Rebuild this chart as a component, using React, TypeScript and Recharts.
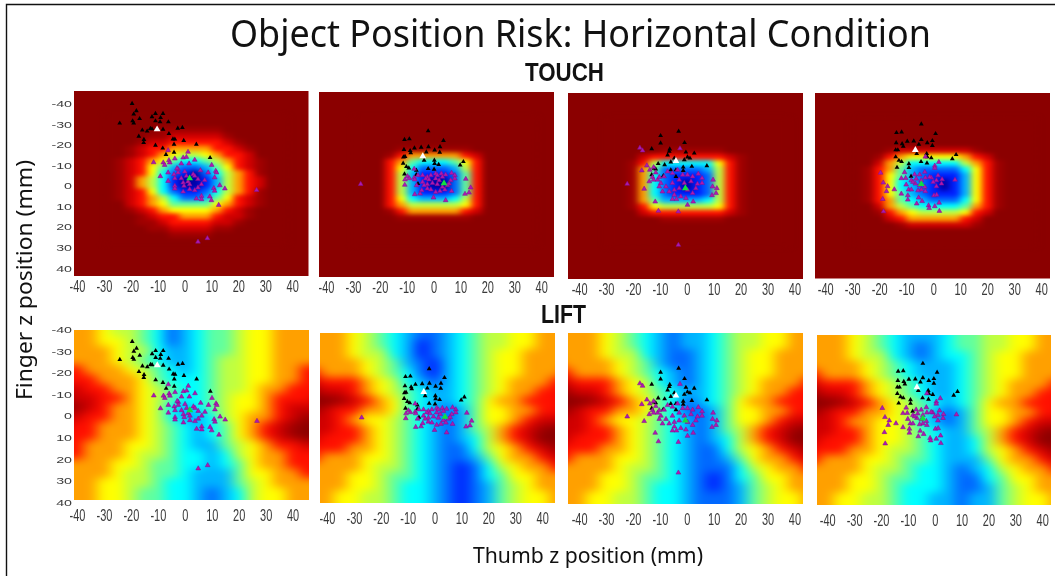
import { ScatterChart, Scatter, XAxis, YAxis, ReferenceArea, Symbols } from 'recharts';

// risk levels 0..c, low to high, written as one hex digit per cell in the tables below
const riskColors = [
  '#0000A8', '#0020FF', '#0068FF', '#00B4FF', '#00FFFF', '#60FFA0', '#C0FF40',
  '#FFFF00', '#FFA000', '#FF1000', '#D00000', '#A00000', '#8B0000',
];

const tickValues = [-40, -30, -20, -10, 0, 10, 20, 30, 40];

const touchXs = [-28, -24, -20, -16, -12, -8, -4, 0, 4, 8, 12, 16, 20, 24, 28, 32, 36];
const touchYs = [-33, -30, -27, -24, -21, -18, -15, -12, -9, -6, -3, 0, 3, 6, 9, 12, 15, 18, 21, 24, 27];
const liftXs = [-50, -45, -40, -35, -30, -25, -20, -15, -10, -5, 0, 5, 10, 15, 20, 25, 30, 35, 40, 45, 50];
const liftYs = [-50, -45, -40, -35, -30, -25, -20, -15, -10, -5, 0, 5, 10, 15, 20, 25, 30, 35, 40, 45, 50];

const touchRisk1 = [
  'ccccccccccccccccc', 'ccccccccccccccccc', 'cccccbbbbbbcccccc', 'ccccbbaaaaabccccc', 'cccbaa99999abcccc',
  'ccba99888899abccc', 'ccba987667899accc', 'cba9875445689abcc', 'cba9753223579abcc', 'cba97421024689bcc',
  'cba86410013689acc', 'cba86410013689acc', 'cba97421124689bcc', 'cba9864223579abcc', 'cca9875555789abcc',
  'ccba98777789abccc', 'cccba998889aabccc', 'cccbba9999aabcccc', 'ccccbbaaaabbccccc', 'ccccccbbbbccccccc',
  'ccccccccccccccccc',
];
const touchRisk2 = [
  'ccccccccccccccccc', 'ccccccccccccccccc', 'ccccccccccccccccc', 'ccccccccccccccccc', 'ccccccccccccccccc',
  'ccccbbbbbbbcccccc', 'cccb9888889accccc', 'ccc985444579ccccc', 'ccc974222369ccccc', 'ccc963111259ccccc',
  'ccc963100259ccccc', 'ccc963100259ccccc', 'ccc963111259ccccc', 'ccc974333469ccccc', 'ccc986666679ccccc',
  'cccb9888889accccc', 'ccccbbbbbbbcccccc', 'ccccccccccccccccc', 'ccccccccccccccccc', 'ccccccccccccccccc',
  'ccccccccccccccccc',
];
const touchRisk3 = [
  'ccccccccccccccccc', 'ccccccccccccccccc', 'ccccccccccccccccc', 'ccccccccccccccccc', 'ccccccccccccccccc',
  'cccccbbbbbbcccccc', 'ccca9999999abcccc', 'ccb964444479bcccc', 'ccb852222369bcccc', 'ccb842111269bcccc',
  'ccb842101269bcccc', 'ccb842101269bcccc', 'ccb842111269bcccc', 'ccb853333469bcccc', 'ccb976666679bcccc',
  'ccca9999999abcccc', 'cccccbbbbbbcccccc', 'ccccccccccccccccc', 'ccccccccccccccccc', 'ccccccccccccccccc',
  'ccccccccccccccccc',
];
const touchRisk4 = [
  'ccccccccccccccccc', 'ccccccccccccccccc', 'ccccccccccccccccc', 'ccccccccccccccccc', 'ccccccccccccccccc',
  'cccbaaaaaaabccccc', 'ccb987777789acccc', 'cca8644444689bccc', 'cb98532222479bccc', 'cb97532111379bccc',
  'cb97432101379bccc', 'cb97432101379bccc', 'cb97532111379bccc', 'cb98543222479bccc', 'cca8654444589bccc',
  'ccb987666679acccc', 'ccca9888889accccc', 'ccccbaaaaaabccccc', 'ccccccccccccccccc', 'ccccccccccccccccc',
  'ccccccccccccccccc',
];

const liftRisk1 = [
  '888876654234556778888', '888876654234556778888', '888877654234556778888', '888887664334556778888',
  '988887654334566778888', '999888765434566778899', 'a99988875444566778899', 'baa998876544566788999',
  'cbaa9987654456778999a', 'ccba98876434567789aaa', 'baa998876433467889abb', 'aa998887654345789abcc',
  'a9998887654345789abcc', '9998887765433567899aa', '999888766544346788999', '988887765544345788999',
  '888887665543335778899', '888877665443335678888', '888877655443234677888', '888877655443234677888',
  '888877655443234677888',
];
const liftRisk2 = [
  '888876543223456677888', '888876543223456677888', '888876543123456677888', '888876643123456778888',
  '988887653213456778888', '998887654213456778889', 'aa9998764323456788899', 'cbaa9876543345678899a',
  'cccba987543345788999a', 'cba99887543235778899a', 'aaa987765432357789aab', 'baa99876543235689abcc',
  'ba999876543234689accc', 'a99988765432246789abb', '9988877654322357889aa', '888887665432124678899',
  '888877655432124577888', '888877654432123567888', '888776654432123567788', '888776654432123567788',
  '888776654432123567788',
];
const liftRisk3 = [
  '888876543233456677888', '888876543233456677888', '888876543233456677888', '888876643223456778888',
  '988887653223456778888', '998887654323456778889', 'aa9998764323456788899', 'cbaa9876543345678899a',
  'cccba987542345788999a', 'cba99887542235778899a', 'aaa987765432357789aab', 'baa99876543235689abcc',
  'ba999876543234689accc', 'a99988765432246789abb', '9988877654322357889aa', '888887665432224678899',
  '888877655432124577888', '888877654432123567888', '888776654432223567788', '888776654432223567788',
  '888776654432223567788',
];
const liftRisk4 = [
  '888876543334556677888', '888876543334556677888', '888876543234556677888', '888876643234456778888',
  '988887654333456778888', '998887654333456778889', 'aa9998765433456788899', 'cbaa9876543345678899a',
  'cccba987654345788999a', 'cba99887653235778899a', 'aaa988776432357789aab', 'baa99877654335689abcc',
  'ba999877654334689accc', 'a99988766543346789abb', '9988877655433357889aa', '888887665443234678899',
  '888877655443224577888', '888877654443223567888', '888776654433233567788', '888776654433233567788',
  '888776654433233567788',
];

// initial (black) and final (purple) grasp positions in mm, one list per column of panels
const startPoints1 = [
  [-19.7, -40.2], [-18.1, -36.6], [-24.3, -30.6], [-19.1, -35], [-19.5, -31.7], [-19.1, -30.7], [-16.9, -32.8],
  [-11, -35.3], [-12.3, -33.7], [-8.2, -35.3], [-9.1, -33.3], [-11, -31.7], [-9.3, -31.2], [-6.2, -31.2],
  [-12.9, -28], [-12.3, -27.8], [-15.9, -27.2], [-14.1, -26.7], [-8.2, -27.6], [-6, -25.5], [-2.7, -28.1],
  [-1, -28.5], [-17.2, -24.2], [-15.3, -22.6], [-15.4, -21.1], [-4.5, -22.9], [-3.8, -22.8], [-0.5, -22.1],
  [-11, -19.8], [-4.1, -20.3], [4.2, -20.3], [-8.3, -18.4], [-4.1, -16.4], [-7.1, -15.3], [9.3, -13.8],
];
const endPoints1 = [
  [-6.3, -17.4], [1.1, -16.6], [-11.7, -11.5], [-8.1, -11.4], [-7.6, -10.2], [-6, -12.5], [-5.7, -11.4],
  [-3.8, -13.3], [-0.7, -13.8], [0.5, -14.1], [3.6, -12.7], [1.5, -10.9], [-1.4, -10.9], [-2.6, -8.1],
  [-3, -8.6], [5.7, -7.6], [9.9, -10.2], [11.4, -7.3], [11.7, -6.5], [-9.2, -4.7], [-6.3, -6.5], [-4.1, -5.7],
  [-2.6, -6.5], [-0.1, -7], [3, -5.7], [8.6, -6.5], [11, -4.1], [-6.3, -2.4], [-3.8, -3.7], [-1.4, -3.7],
  [0.5, -4.9], [3.6, -4.9], [4.8, -3.3], [7.3, -2.8], [-0.7, -1.6], [1.1, -2.1], [6.1, -0.8], [12.9, -0.3],
  [14.8, 1.3], [-3.8, 0], [-3.8, 1.3], [-0.4, 0], [1.7, -0.8], [4.8, 0.8], [-0.7, 2.8], [1.7, 1.6], [3.6, 2.1],
  [10.7, 1.1], [11, 2.4], [9.2, 5.2], [6.1, 4.9], [4.2, 6.2], [6.1, 6.5], [9.8, 7], [12.5, 9.3], [4.8, 27.2],
  [8.3, 25.5], [26.6, 2],
];
const startPoints2 = [
  [-2.2, -27.3], [-11, -23.1], [-9.2, -23.4], [3.5, -22.6], [-11.2, -18.2], [-8.9, -17.7], [-8.7, -16.6],
  [-7.3, -19], [-4.8, -19.3], [-2.1, -19.6], [0.2, -18], [2.2, -19.6], [-2.9, -17], [2.1, -16.9], [-11.4, -14.6],
  [-10.8, -14.8], [-3.7, -13], [0.1, -13], [0.2, -11.4], [1.7, -10.9], [-11.5, -11.5], [-10.3, -9.9], [-9.4, -9.2],
  [-2.2, -8.9], [0, -8.6], [-6.6, -8.1], [9.7, -10.7], [10.9, -12.3], [-11, -6.3], [-6.6, -6], [-6, -1.6],
];
const endPoints2 = [
  [-7.4, -8.8], [-9.9, -5.2], [-9.2, -4.2], [-10.8, -3.6], [-10.9, -1], [-7.4, -4.5], [-7.2, -3.6], [-6, -5.7],
  [-4.3, -5.7], [-2.5, -4.9], [-1.2, -5.7], [0.6, -6.5], [2.7, -6.5], [4.3, -6], [6.5, -6.8], [7.7, -5.7],
  [7.7, -4.1], [6.2, -3.2], [11.8, -3.9], [13.6, 0.3], [13, 2.8], [11.5, 3.4], [-7.2, 3.6], [-5.2, 3.3],
  [-4.6, 1.6], [-6.5, -0.8], [-4.3, -2.4], [-3.1, -4.1], [-1.9, -3.6], [0.6, -4.1], [1.9, -3.2], [3.1, -4.9],
  [-2.5, -1.3], [-0.6, -1.9], [1.2, -1.3], [3.1, 0], [5, -0.8], [6.5, 2], [-2.5, 0.8], [-1.2, 1.3], [0.6, 2.5],
  [2.2, 2], [4, 1.3], [-0.2, 5.2], [4.3, 6.5], [-27.3, -1.4], [-3.7, -0.8], [1.2, -5.7], [5.6, -1.6],
];
const startPoints3 = [
  [-3.2, -27.7], [-9.9, -25.6], [-9.9, -22], [-1, -22.2], [-13.2, -19.2], [-6.5, -19.1], [-6.7, -18], [-0.5, -17.6],
  [2.6, -17.1], [-7.3, -16.2], [0.1, -15.2], [1, -14.7], [-1.1, -13.9], [-4.8, -14.7], [-6.1, -12.8], [-10.8, -12],
  [-8.4, -11.5], [-12.3, -9.8], [-11.7, -9.4], [-1.5, -10.3], [1.7, -10.7], [7.3, -11], [-6.1, -9], [-4.2, -9],
  [-1.5, -8.7], [-13.2, -6.6], [-8.9, -6.1], [-4.2, -5.8],
];
const endPoints3 = [
  [-17.6, -19.7], [-16.6, -18.4], [-2.7, -19.4], [-15, -11.1], [-16.9, -8.7], [-13.9, -9], [-12.5, -10.3],
  [-11.7, -7.7], [-12.9, -5.5], [-14.1, -3.4], [-12.5, -4.2], [-11, -4.2], [-22.3, -2.2], [-16, 0.2], [-10.4, -5.5],
  [-8.6, -5.8], [-7.3, -8.2], [-5.5, -7.4], [-3.6, -9], [-1.7, -6.6], [0.1, -6.6], [2, -5.8], [4.1, -7.1], [5.5, -5],
  [5.5, -2.6], [3.8, -2.2], [9.6, -4.2], [9.4, -0.9], [11, -0.1], [10.7, 2.3], [9.2, 3.3], [-9.8, -2.6], [-7.9, -0.9],
  [-5.5, -2.6], [-3, -4.2], [-1.1, -2.6], [1.4, -3.4], [3.2, -0.1], [-6.7, 1.5], [-4.8, 0.7], [-3, -0.1], [0.1, 0.7],
  [2, 2.3], [-4.8, 3.1], [-2.4, 3.9], [-5.5, 5.2], [-4, 5.2], [-0.5, 4.7], [2.2, 6.4], [-11.9, 6.4], [0.1, 8],
  [-10.7, 10.9], [-3.3, 11.2], [-3.3, 27.4], [-9.2, 1.5], [-10.4, -0.9],
];
const startPoints4 = [
  [-4.6, -31.2], [-13.8, -27], [-11.9, -27.3], [0.7, -26.5], [-13.9, -22.1], [-11.7, -21.6], [-11.3, -20.3],
  [-9.8, -22.8], [-7.4, -22.9], [-4.6, -23.6], [-2.4, -22.1], [-0.5, -23.1], [-5.5, -21.3], [-0.5, -20.7],
  [-14.1, -18.6], [-13.3, -18.6], [-6.3, -16.8], [-2.6, -16.8], [-2.4, -15.2], [-0.9, -14.7], [-14.1, -15.2],
  [-12.9, -13.5], [-11.9, -12.9], [-4.7, -12.9], [-2.5, -12.2], [-9.2, -11.9], [6.9, -14.3], [8.3, -16.3],
  [-13.6, -10.1], [-9.2, -10], [-8.4, -5.8],
];
const endPoints4 = [
  [-19.7, -7.5], [-18.7, -2.7], [-17.1, -0.9], [-17.5, 1.5], [-14.6, 0.6], [-18.9, 5.3], [-18.6, 11.3], [-10.8, -7.7],
  [-12, -4.8], [-10.4, -4.9], [-10.2, -1.7], [-8.3, -3.8], [-9.3, 0.7], [-8.3, 0.7], [-12, 2.7], [-9.6, 3.5], [-9.6, 5.6],
  [-6.3, 7.5], [1.9, -12.7], [0.4, -10.9], [0.4, -9.8], [-3.1, -15.3], [-7.1, -6.7], [-5.2, -6.6], [-3.3, -7.9],
  [-0.9, -5.1], [1.6, -6.2], [3.1, -4.3], [1, -3.8], [7.9, -4.1], [-6.5, -4.6], [-4.6, -3.8], [-3.1, -5.1], [-1.5, -5.4],
  [-6.8, -2.2], [-5.2, -1.4], [-3.3, -0.6], [1, -0.9], [-4.6, 0.7], [-3.1, 1.5], [0.1, 3.5], [1.1, 3.2], [-5.6, 4.6],
  [-4.3, 6.3], [-1.9, 8.4], [0.4, 8.8], [2, 7.1], [2.1, 11.1], [-1.7, 9.7], [-7.7, -3], [-5.8, 1.1], [-0.2, -3], [2.9, -2.2],
];
const startMeans = [[-10.4, -27.6], [-4.2, -15], [-4.2, -13.3], [-6.8, -18.6]];
const endMeans = [[1.7, -3.7], [3.7, -1.8], [-0.7, -0.1], [-4.6, -2]];

const dataYDomain = [-46.3, 43.9];
const touchTickDomain = [-46.3, 43.9];
const liftTickDomain = [-39.8, 39];

const columns = [
  { xDomain: [-41.3, 45.9], touch: touchRisk1, lift: liftRisk1, start: startPoints1, end: endPoints1,
    touchBox: { left: 73.5, top: 91, width: 234.5, height: 185 }, liftBox: { left: 74, top: 330, width: 235, height: 170 } },
  { xDomain: [-42.8, 44.6], touch: touchRisk2, lift: liftRisk2, start: startPoints2, end: endPoints2,
    touchBox: { left: 319, top: 91.5, width: 235, height: 185 }, liftBox: { left: 320, top: 333, width: 235, height: 170 } },
  { xDomain: [-44.3, 43], touch: touchRisk3, lift: liftRisk3, start: startPoints3, end: endPoints3,
    touchBox: { left: 568, top: 93, width: 235, height: 186 }, liftBox: { left: 568, top: 333, width: 235, height: 171 } },
  { xDomain: [-44, 43.1], touch: touchRisk4, lift: liftRisk4, start: startPoints4, end: endPoints4,
    touchBox: { left: 815, top: 92.5, width: 235, height: 185.5 }, liftBox: { left: 817, top: 335, width: 234, height: 170 } },
];

const yAxisW = 34;
const topPad = 10;

const toCells = (rows: string[], xs: number[], ys: number[]) =>
  rows.flatMap((row, j) => [...row].map((ch, i) => ({ x: xs[i], y: ys[j], risk: parseInt(ch, 16) })));
const toPoints = (list: number[][]) => list.map(([x, y]) => ({ x, y }));

const XTick = ({ x, y, payload, shift }: any) => (
  <text transform={`translate(${x},${y + shift}) scale(1,1.45)`} textAnchor="middle" fontSize={11}
    fontFamily="'Liberation Sans', Arial, sans-serif" fill="#3a3a3a" className="soft">
    {payload.value}
  </text>
);

const YTick = ({ y, payload }: any) => (
  <text transform={`translate(${yAxisW - 2},${y + 3.5}) scale(1.5,1)`} textAnchor="end" fontSize={9.5}
    fontFamily="'Liberation Sans', Arial, sans-serif" fill="#3a3a3a" className="soft">
    {payload.value}
  </text>
);

const triangle = (size: number, fill: string, stroke?: string) => (props: any) => (
  <Symbols type="triangle" size={size} cx={props.cx} cy={props.cy} fill={fill} stroke={stroke} strokeWidth={0.5} />
);

function Panel({ box, xDomain, tickDomain, showYTicks, cells, stepX, stepY, blurClass, tickShift, start, end, startMean, endMean, background }: any) {
  const cellW = (stepX * box.width) / (xDomain[1] - xDomain[0]) + 1;
  const cellH = (stepY * box.height) / (dataYDomain[1] - dataYDomain[0]) + 1;
  const cell = (props: any) => (
    <rect x={props.cx - cellW / 2} y={props.cy - cellH / 2} width={cellW} height={cellH} fill={riskColors[props.payload.risk]} />
  );

  return (
    <div style={{ position: 'absolute', left: box.left - yAxisW, top: box.top - topPad }}>
      <ScatterChart
        width={box.width + yAxisW + 4}
        height={box.height + topPad + 26}
        margin={{ top: topPad, right: 4, bottom: 0, left: showYTicks ? 0 : yAxisW }}
      >
        <XAxis type="number" dataKey="x" domain={xDomain} ticks={tickValues} allowDataOverflow interval={0}
          height={26} tickLine={false} axisLine={false} tick={<XTick shift={tickShift} />} />
        <YAxis yAxisId="ticks" type="number" dataKey="y" domain={tickDomain} ticks={tickValues} allowDataOverflow reversed interval={0}
          width={yAxisW} hide={!showYTicks} tickLine={false} axisLine={false} tick={<YTick />} />
        <YAxis yAxisId="data" type="number" dataKey="y" domain={dataYDomain} allowDataOverflow reversed hide />
        {background && (
          <ReferenceArea yAxisId="data" x1={xDomain[0]} x2={xDomain[1]} y1={dataYDomain[0]} y2={dataYDomain[1]}
            fill={background} fillOpacity={1} stroke="none" />
        )}
        <Scatter yAxisId="data" data={cells} shape={cell} className={blurClass} isAnimationActive={false} />
        <Scatter yAxisId="data" data={start} shape={triangle(10, '#000000')} className="soft" isAnimationActive={false} />
        <Scatter yAxisId="data" data={end} shape={triangle(10, '#B018B0', '#7A1090')} className="soft" isAnimationActive={false} />
        <Scatter yAxisId="data" data={[startMean]} shape={triangle(20, '#FFFFFF')} className="soft" isAnimationActive={false} />
        <Scatter yAxisId="data" data={[endMean]} shape={triangle(20, '#10E040')} className="soft" isAnimationActive={false} />
      </ScatterChart>
    </div>
  );
}

export default function App() {
  return (
    <div style={{ position: 'absolute', left: 0, top: 0, width: 1055, height: 576, background: '#fff', overflow: 'hidden' }}>
      <style>{`
        .heat-touch { filter: url(#softTouch); }
        .heat-lift { filter: url(#softLift); }
        .soft { filter: blur(0.35px); }
      `}</style>
      <svg width={0} height={0} style={{ position: 'absolute' }}>
        <filter id="softTouch" colorInterpolationFilters="sRGB" x="-10%" y="-10%" width="120%" height="120%">
          <feGaussianBlur stdDeviation="3.8 2.3" />
        </filter>
        <filter id="softLift" colorInterpolationFilters="sRGB" x="-10%" y="-10%" width="120%" height="120%">
          <feGaussianBlur stdDeviation="6.5 4.5" />
        </filter>
      </svg>

      {columns.map((col, i) => (
        <div key={i}>
          <Panel box={col.touchBox} xDomain={col.xDomain} tickDomain={touchTickDomain} showYTicks={i === 0}
            cells={toCells(col.touch, touchXs, touchYs)} stepX={4} stepY={3} blurClass="heat-touch" tickShift={8}
            background={riskColors[12]} start={toPoints(col.start)} end={toPoints(col.end)}
            startMean={toPoints(startMeans)[i]} endMean={toPoints(endMeans)[i]} />
          <Panel box={col.liftBox} xDomain={col.xDomain} tickDomain={liftTickDomain} showYTicks={i === 0}
            cells={toCells(col.lift, liftXs, liftYs)} stepX={5} stepY={5} blurClass="heat-lift" tickShift={13}
            start={toPoints(col.start)} end={toPoints(col.end)}
            startMean={toPoints(startMeans)[i]} endMean={toPoints(endMeans)[i]} />
        </div>
      ))}

      <svg width={1055} height={576} style={{ position: 'absolute', left: 0, top: 0, pointerEvents: 'none' }}>
        <path d="M6.5 576 V4.5 H1055" fill="none" stroke="#111" strokeWidth={1.4} />
        <text x={230} y={47} fontSize={38} fontFamily="'Noto Sans', sans-serif" fill="#111"
          textLength={701} lengthAdjust="spacingAndGlyphs" className="soft">
          Object Position Risk: Horizontal Condition
        </text>
        <text x={525} y={81} fontSize={25} fontWeight="bold" fontFamily="'Liberation Sans', sans-serif" fill="#111"
          textLength={79} lengthAdjust="spacingAndGlyphs" className="soft">TOUCH</text>
        <text x={541} y={323} fontSize={25} fontWeight="bold" fontFamily="'Liberation Sans', sans-serif" fill="#111"
          textLength={45} lengthAdjust="spacingAndGlyphs" className="soft">LIFT</text>
        <text x={473} y={563} fontSize={21} fontFamily="'Noto Sans', sans-serif" fill="#111"
          textLength={230} lengthAdjust="spacingAndGlyphs" className="soft">Thumb z position (mm)</text>
        <text transform="translate(32,400) rotate(-90)" fontSize={21} fontFamily="'Noto Sans', sans-serif" fill="#111"
          textLength={240} lengthAdjust="spacingAndGlyphs" className="soft">Finger z position (mm)</text>
      </svg>
    </div>
  );
}
